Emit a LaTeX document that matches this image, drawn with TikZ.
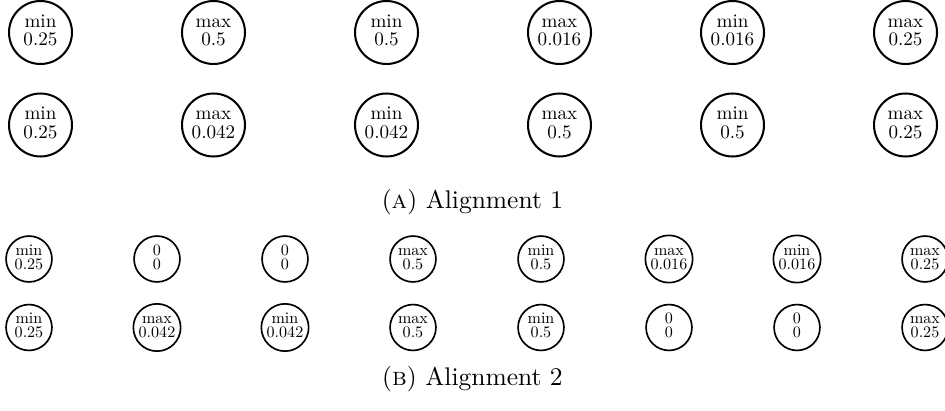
\documentclass[tikz,border=0pt]{standalone}
\newcommand\bigtxt[2]{\scalebox{0.75}{\fontsize{10}{10}\selectfont\begin{tabular}{@{}c@{}}#1\\[-0.3pt]#2\end{tabular}}}
\newcommand\smalltxt[2]{\scalebox{0.63}{\fontsize{10}{10}\selectfont\begin{tabular}{@{}c@{}}#1\\[-1.3pt]#2\end{tabular}}}
\begin{document}
\begin{tikzpicture}[x=0.3922pt,y=-0.3922pt,
  big/.style={circle,draw,line width=0.8pt,minimum size=24.7pt,inner sep=0pt},
  small/.style={circle,draw,line width=0.65pt,minimum size=18pt,inner sep=0pt},
  captext/.style={anchor=base,inner sep=0pt,font=\fontsize{10}{12}\selectfont}]
\useasboundingbox (0,0) rectangle (945,411);
% (a)
\node[big] (a1) at (40.5,32.5) {\bigtxt{min}{0.25}};
\node[big] (a2) at (213.5,32.5) {\bigtxt{max}{0.5}};
\node[big] (a3) at (386.5,32.5) {\bigtxt{min}{0.5}};
\node[big] (a4) at (559.5,32.5) {\bigtxt{max}{0.016}};
\node[big] (a5) at (732.5,32.5) {\bigtxt{min}{0.016}};
\node[big] (a6) at (905.5,32.5) {\bigtxt{max}{0.25}};
\node[big] (b1) at (40.5,125) {\bigtxt{min}{0.25}};
\node[big] (b2) at (213.5,125) {\bigtxt{max}{0.042}};
\node[big] (b3) at (386.5,125) {\bigtxt{min}{0.042}};
\node[big] (b4) at (559.5,125) {\bigtxt{max}{0.5}};
\node[big] (b5) at (732.5,125) {\bigtxt{min}{0.5}};
\node[big] (b6) at (905.5,125) {\bigtxt{max}{0.25}};
\node[captext] (capA) at (472.5,208) {(\textsc{a}) Alignment 1};
% (b)
\node[small] (c1) at (29,259) {\smalltxt{min}{0.25}};
\node[small] (c2) at (157,259) {\smalltxt{0}{0}};
\node[small] (c3) at (285,259) {\smalltxt{0}{0}};
\node[small] (c4) at (413,259) {\smalltxt{max}{0.5}};
\node[small] (c5) at (541,259) {\smalltxt{min}{0.5}};
\node[small] (c6) at (669,259) {\smalltxt{max}{0.016}};
\node[small] (c7) at (797,259) {\smalltxt{min}{0.016}};
\node[small] (c8) at (925,259) {\smalltxt{max}{0.25}};
\node[small] (d1) at (29,327.5) {\smalltxt{min}{0.25}};
\node[small] (d2) at (157,327.5) {\smalltxt{max}{0.042}};
\node[small] (d3) at (285,327.5) {\smalltxt{min}{0.042}};
\node[small] (d4) at (413,327.5) {\smalltxt{max}{0.5}};
\node[small] (d5) at (541,327.5) {\smalltxt{min}{0.5}};
\node[small] (d6) at (669,327.5) {\smalltxt{0}{0}};
\node[small] (d7) at (797,327.5) {\smalltxt{0}{0}};
\node[small] (d8) at (925,327.5) {\smalltxt{max}{0.25}};
\node[captext] (capB) at (472.5,385) {(\textsc{b}) Alignment 2};
\end{tikzpicture}
\end{document}
